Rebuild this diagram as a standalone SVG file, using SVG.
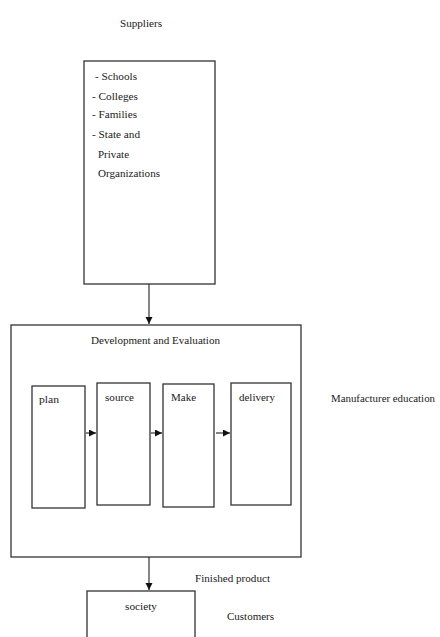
<svg xmlns="http://www.w3.org/2000/svg" width="440" height="637" viewBox="0 0 440 637">
<defs>
<marker id="ah" markerWidth="10" markerHeight="10" refX="7" refY="3.5" orient="auto" markerUnits="userSpaceOnUse">
<path d="M0,0 L7,3.5 L0,7 Z" fill="#111"/>
</marker>
<style>
.box{fill:#fff;stroke:#333;stroke-width:1.3}
text{font-family:"Liberation Serif","DejaVu Serif",serif;font-size:11px;fill:#1a1a1a}
.c{stroke:#222;stroke-width:1.1;fill:none;marker-end:url(#ah)}
</style>
</defs>
<rect width="440" height="637" fill="#fff"/>
<text x="120" y="27" textLength="42" lengthAdjust="spacingAndGlyphs">Suppliers</text>
<g id="suppliers">
<rect class="box" x="84" y="61" width="131" height="223"/>
<text x="95" y="80" textLength="42" lengthAdjust="spacingAndGlyphs">- Schools</text>
<text x="92" y="100" textLength="46" lengthAdjust="spacingAndGlyphs">- Colleges</text>
<text x="92" y="118" textLength="45" lengthAdjust="spacingAndGlyphs">- Families</text>
<text x="92" y="138" textLength="48" lengthAdjust="spacingAndGlyphs">- State and</text>
<text x="98" y="158" textLength="31" lengthAdjust="spacingAndGlyphs">Private</text>
<text x="98" y="177" textLength="62" lengthAdjust="spacingAndGlyphs">Organizations</text>
</g>
<g id="dev">
<rect class="box" x="11" y="325" width="290" height="232"/>
<text x="91" y="344" textLength="129" lengthAdjust="spacingAndGlyphs">Development and Evaluation</text>
</g>
<g id="plan">
<rect class="box" x="32" y="386" width="53" height="122"/>
<text x="39" y="403" textLength="20" lengthAdjust="spacingAndGlyphs">plan</text>
</g>
<g id="source">
<rect class="box" x="97" y="383" width="53" height="122"/>
<text x="105" y="401" textLength="29" lengthAdjust="spacingAndGlyphs">source</text>
</g>
<g id="make">
<rect class="box" x="163" y="384" width="51" height="123"/>
<text x="171" y="401" textLength="25" lengthAdjust="spacingAndGlyphs">Make</text>
</g>
<g id="delivery">
<rect class="box" x="231" y="383" width="60" height="122"/>
<text x="239" y="401" textLength="36" lengthAdjust="spacingAndGlyphs">delivery</text>
</g>
<text x="331" y="402" textLength="104" lengthAdjust="spacingAndGlyphs">Manufacturer education</text>
<g id="society">
<rect class="box" x="87" y="591" width="108" height="60"/>
<text x="125" y="610" textLength="32" lengthAdjust="spacingAndGlyphs">society</text>
</g>
<text x="195" y="582" textLength="75" lengthAdjust="spacingAndGlyphs">Finished product</text>
<text x="227" y="620" textLength="47" lengthAdjust="spacingAndGlyphs">Customers</text>
<g id="connectors">
<line class="c" x1="149" y1="284" x2="149" y2="324"/>
<line class="c" x1="86" y1="433" x2="96" y2="433"/>
<line class="c" x1="151" y1="433" x2="162" y2="433"/>
<line class="c" x1="216" y1="433" x2="230" y2="433"/>
<line class="c" x1="149" y1="557" x2="149" y2="590"/>
</g>
</svg>
